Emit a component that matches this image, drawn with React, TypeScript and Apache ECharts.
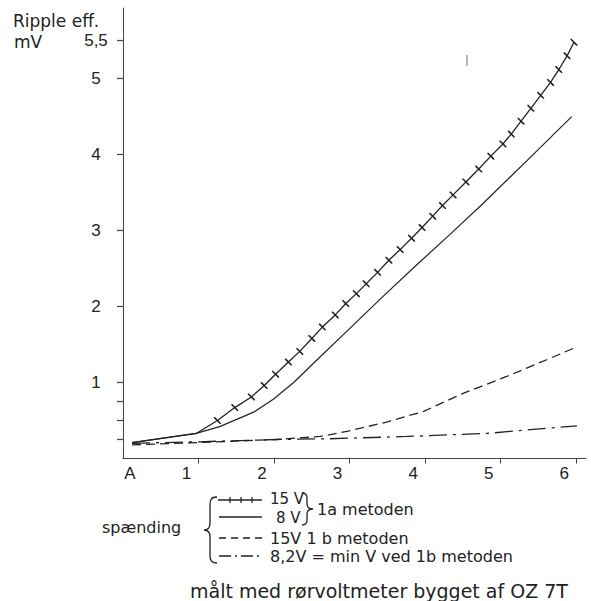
import React, { useEffect, useRef } from 'react';
import * as echarts from 'echarts';

// ---- data ----
const xTickValues = [1, 2, 3, 4, 5, 6];
const xLabelValues = [0, 1, 2, 3, 4, 5, 6];
const xLabelTexts = ['A', '1', '2', '3', '4', '5', '6'];
const yMajorTicks = [1, 2, 3, 4, 5, 5.5];
const yMinorTicks = [0.25, 0.5, 0.75];
const yLabelValues = [1, 2, 3, 4, 5, 5.5];

// 15 V, 1a metoden (line with crosses)
const cross15X = [0.12, 0.97, 1.25, 1.48, 1.70, 1.87, 2.02, 2.19, 2.34, 2.50, 2.64, 2.81, 2.95, 3.09, 3.22, 3.37, 3.52, 3.67, 3.82, 3.96, 4.10, 4.23, 4.37, 4.54, 4.71, 4.87, 5.03, 5.14, 5.27, 5.40, 5.53, 5.66, 5.77, 5.88, 5.97];
const cross15Y = [0.21, 0.33, 0.50, 0.67, 0.81, 0.96, 1.11, 1.27, 1.41, 1.58, 1.73, 1.89, 2.04, 2.17, 2.30, 2.45, 2.61, 2.75, 2.90, 3.04, 3.19, 3.33, 3.47, 3.64, 3.81, 3.98, 4.14, 4.27, 4.44, 4.61, 4.78, 4.95, 5.12, 5.30, 5.48];

// 8 V, 1a metoden (solid)
const solid8X = [0.12, 0.97, 1.28, 1.73, 1.99, 2.26, 2.57, 3.01, 3.45, 3.89, 4.33, 4.77, 5.43, 5.94];
const solid8Y = [0.21, 0.33, 0.42, 0.61, 0.78, 1.00, 1.30, 1.72, 2.14, 2.55, 2.95, 3.36, 4.00, 4.50];

// 15 V, 1b metoden (dashed)
const dashed15X = [0.12, 1.0, 2.03, 2.61, 2.98, 3.49, 3.98, 4.51, 5.08, 5.61, 6.01];
const dashed15Y = [0.18, 0.21, 0.25, 0.29, 0.36, 0.48, 0.62, 0.86, 1.08, 1.30, 1.47];

// 8,2 V = min V ved 1b metoden (dash-dot)
const dashDotX = [0.12, 1.0, 2.03, 2.74, 3.76, 4.82, 5.39, 6.01];
const dashDotY = [0.20, 0.22, 0.25, 0.26, 0.29, 0.33, 0.38, 0.43];

// ---- shapes ----
const bigBrace =
  'M217,497 C211,497 210,500 210,505 L210,523 C210,527 208,530 204,530 C208,530 210,533 210,537 L210,555 C210,560 211,563 217,563';
const smallBrace =
  'M302,493 C306,493 307,495 307,498 L307,504 C307,507 309,509 313,509 C309,509 307,511 307,514 L307,520 C307,523 306,525 302,525';
echarts.graphic.registerShape('bigBrace', echarts.graphic.extendPath(bigBrace, {}));
echarts.graphic.registerShape('smallBrace', echarts.graphic.extendPath(smallBrace, {}));

const INK = '#222';
const AXIS = '#444';
const crossSymbol = 'path://M0,0 L1.6,0 L10,8.4 L10,10 L8.4,10 L0,1.6 Z';

const pairs = (xs: number[], ys: number[]) => xs.map((x, i) => [x, ys[i]]);

export default function App() {
  const ref = useRef<HTMLDivElement>(null);
  useEffect(() => {
    if (!ref.current) return;
    const chart = echarts.init(ref.current, null, { renderer: 'svg' });
    const legendText = (text: string, x: number, y: number, size = 16) => ({
      type: 'text',
      x,
      y,
      style: {
        text,
        fill: INK,
        font: `${size}px "DejaVu Sans", sans-serif`,
        lineHeight: size,
        textVerticalAlign: 'middle',
        textAlign: 'left',
      },
    });
    const gline = (x1: number, y1: number, x2: number, y2: number, dash?: number[], w = 1.3, color = INK) => ({
      type: 'line',
      shape: { x1, y1, x2, y2 },
      style: { stroke: color, lineWidth: w, lineDash: dash || null },
    });
    chart.setOption({
      animation: false,
      backgroundColor: '#fff',
      grid: { left: 123, top: 8, width: 463, height: 450.5, containLabel: false },
      xAxis: {
        type: 'value',
        min: 0,
        max: 6.13,
        axisLine: { show: true, lineStyle: { color: AXIS, width: 1 } },
        axisTick: { show: true, inside: false, length: 5, customValues: xTickValues, lineStyle: { color: AXIS, width: 1 } },
        axisLabel: {
          show: true,
          customValues: xLabelValues,
          margin: 6,
          color: INK,
          formatter: (v: number) => {
            const t = xLabelTexts[xLabelValues.indexOf(v)];
            return v === 0 ? `{a|${t}}` : `{n|${t}}`;
          },
          rich: {
            a: { padding: [0, 0, 0, 14], fontSize: 17, fontFamily: '"Liberation Sans", sans-serif', color: INK },
            n: { padding: [0, 24, 0, 0], fontSize: 17, fontFamily: '"Liberation Sans", sans-serif', color: INK },
          },
        },
        splitLine: { show: false },
      },
      yAxis: {
        type: 'value',
        min: 0,
        max: 5.93,
        axisLine: { show: true, lineStyle: { color: AXIS, width: 1 } },
        axisTick: {
          show: true,
          inside: false,
          length: 6,
          customValues: [...yMinorTicks, ...yMajorTicks],
          lineStyle: { color: AXIS, width: 1.2 },
        },
        axisLabel: {
          show: true,
          customValues: yLabelValues,
          margin: 27,
          align: 'center',
          fontSize: 17,
          fontFamily: '"Liberation Sans", sans-serif',
          color: INK,
          formatter: (v: number) => String(v).replace('.', ','),
        },
        splitLine: { show: false },
      },
      series: [
        {
          name: '15 V 1a',
          type: 'line',
          data: pairs(cross15X, cross15Y).map((p, i) => (i < 2 ? { value: p, symbol: 'none' } : { value: p })),
          symbol: crossSymbol,
          symbolSize: 7,
          showAllSymbol: true,
          itemStyle: { color: INK },
          lineStyle: { color: INK, width: 1.3 },
          z: 5,
        },
        {
          name: '8 V 1a',
          type: 'line',
          data: pairs(solid8X, solid8Y),
          symbol: 'none',
          lineStyle: { color: INK, width: 1.2 },
        },
        {
          name: '15 V 1b',
          type: 'line',
          data: pairs(dashed15X, dashed15Y),
          symbol: 'none',
          lineStyle: { color: INK, width: 1.3, type: [9, 5] },
        },
        {
          name: '8,2 V 1b',
          type: 'line',
          data: pairs(dashDotX, dashDotY),
          symbol: 'none',
          lineStyle: { color: INK, width: 1.3, type: [18, 6, 3, 6] },
        },
      ],
      graphic: [
        {
          type: 'text',
          x: 13,
          y: 21,
          style: { text: 'Ripple eff.', fill: INK, font: '17px "DejaVu Sans", sans-serif', textVerticalAlign: 'middle' },
        },
        {
          type: 'text',
          x: 14,
          y: 42,
          style: { text: 'mV', fill: INK, font: '17px "DejaVu Sans", sans-serif', textVerticalAlign: 'middle' },
        },
        gline(467, 55, 467, 66, undefined, 1.4, '#999'),
        // legend samples
        gline(218, 500, 262, 500),
        gline(230, 497, 230, 503),
        gline(241, 497, 241, 503),
        gline(252, 497, 252, 503),
        gline(219, 517, 262, 517),
        gline(219, 538, 262, 538, [7, 5]),
        gline(219, 556, 262, 556, [12, 4, 2, 4]),
        { type: 'bigBrace', x: 0, y: 0, style: { stroke: INK, fill: 'none', lineWidth: 1.3 } },
        { type: 'smallBrace', x: 0, y: 0, style: { stroke: INK, fill: 'none', lineWidth: 1.3 } },
        legendText('spænding', 102, 527),
        legendText('15 V', 270, 499, 15),
        legendText('8 V', 276, 518, 15),
        legendText('1a metoden', 317, 509),
        legendText('15V 1 b metoden', 270, 538),
        legendText('8,2V = min V ved 1b metoden', 270, 556),
        legendText('målt med rørvoltmeter bygget af OZ 7T', 190, 591, 19),
      ],
    });
    return () => chart.dispose();
  }, []);
  return (
    <div
      ref={ref}
      style={{ position: 'fixed', left: 0, top: 0, width: 591, height: 601, background: '#fff' }}
    />
  );
}
